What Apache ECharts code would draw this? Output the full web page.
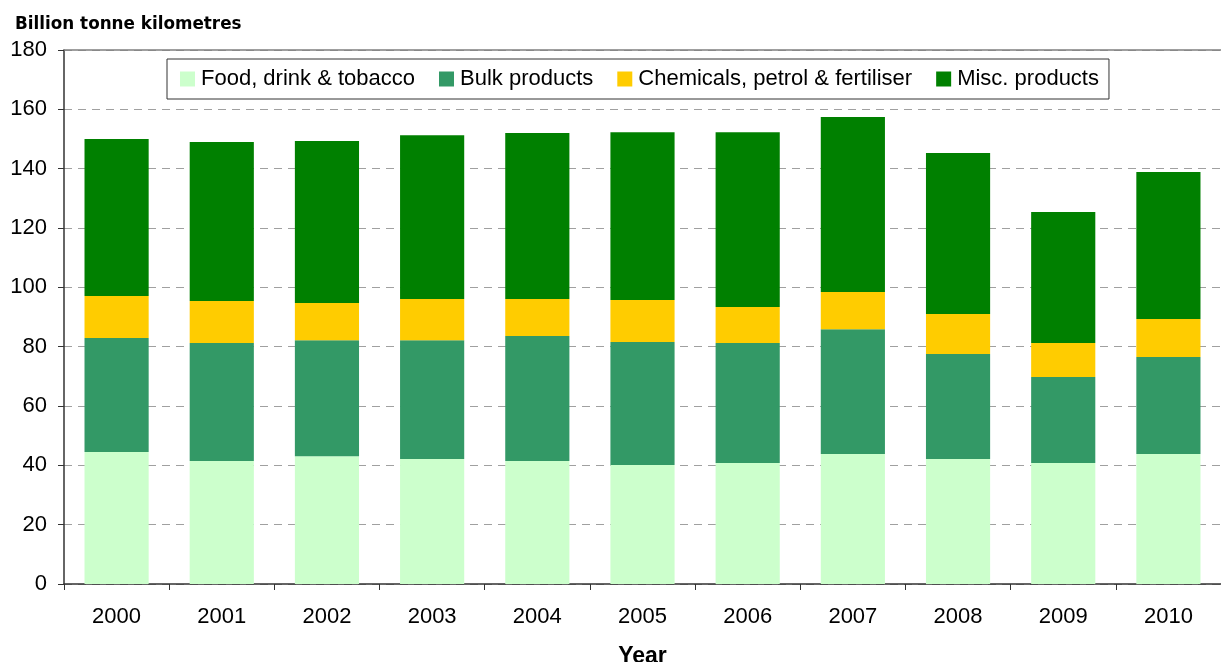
<!DOCTYPE html>
<html>
<head>
<meta charset="utf-8">
<script src="https://cdn.jsdelivr.net/npm/echarts@6/dist/echarts.min.js"></script>
<style>
html,body{margin:0;padding:0;background:#fff;}
#chart{width:1221px;height:662px;}
</style>
</head>
<body>
<div id="chart"></div>
<script>
const years = ['2000','2001','2002','2003','2004','2005','2006','2007','2008','2009','2010'];
const food = [44.5, 41.5, 43.1, 42.1, 41.5, 40.1, 40.8, 43.8, 42.1, 40.8, 43.8];
const bulk = [38.4, 39.7, 39.1, 40.1, 42.1, 41.5, 40.4, 42.1, 35.4, 29.0, 32.7];
const chem = [14.2, 14.2, 12.5, 13.9, 12.5, 14.1, 12.2, 12.5, 13.5, 11.4, 12.8];
const misc = [52.9, 53.6, 54.6, 55.2, 55.9, 56.6, 58.9, 59.0, 54.3, 44.2, 49.6];
const seriesNames = ['Food, drink & tobacco', 'Bulk products', 'Chemicals, petrol & fertiliser', 'Misc. products'];
const colors = ['#CCFFCC', '#339966', '#FFCC00', '#008000'];

const FONT = 'Liberation Sans, Arial, sans-serif';
const chart = echarts.init(document.getElementById('chart'), null, {renderer: 'canvas'});
const data = [food, bulk, chem, misc];
chart.setOption({
  animation: false,
  textStyle: {fontFamily: FONT},
  title: {
    text: 'Billion tonne kilometres',
    left: 10, top: 11,
    textStyle: {fontFamily: 'DejaVu Sans', fontSize: 16.8, fontWeight: 'bold', color: '#000'}
  },
  legend: {
    left: 167, top: 59,
    orient: 'horizontal',
    itemWidth: 15, itemHeight: 15, itemGap: 24,
    padding: [9, 10, 9, 13],
    borderColor: '#333', borderWidth: 1,
    backgroundColor: '#fff',
    icon: 'rect',
    textStyle: {fontFamily: FONT, fontSize: 22, color: '#000', padding: [0,0,0,1]},
    data: seriesNames
  },
  grid: {left: 64, right: 0, top: 50, bottom: 78, containLabel: false, outerBoundsMode: 'none'},
  xAxis: [{
    type: 'category',
    data: years,
    axisLine: {lineStyle: {color: '#333', width: 1.5}},
    axisTick: {show: true, length: 6, lineStyle: {color: '#333'}},
    axisLabel: {fontFamily: FONT, fontSize: 22, color: '#000', margin: 22},
    name: 'Year',
    nameLocation: 'middle',
    nameGap: 61,
    nameTextStyle: {fontFamily: FONT, fontSize: 23, fontWeight: 'bold', color: '#000'}
  }, {
    type: 'category',
    position: 'top',
    data: years,
    axisLine: {show: true, lineStyle: {color: '#808080', width: 1.5}},
    axisTick: {show: false},
    axisLabel: {show: false}
  }],
  yAxis: {
    type: 'value',
    min: 0, max: 180, interval: 20,
    axisLine: {show: true, lineStyle: {color: '#333', width: 1.5}},
    axisTick: {show: true, length: 6, lineStyle: {color: '#333'}},
    axisLabel: {fontFamily: FONT, fontSize: 22, color: '#000', margin: 17},
    splitLine: {show: true, lineStyle: {color: '#a0a0a0', type: [8, 6], width: 1}}
  },
  series: data.map((d, i) => ({
    name: seriesNames[i],
    type: 'bar',
    stack: 'total',
    barWidth: '61%',
    xAxisIndex: 0,
    itemStyle: {color: colors[i]},
    data: d
  }))
});
</script>
</body>
</html>
